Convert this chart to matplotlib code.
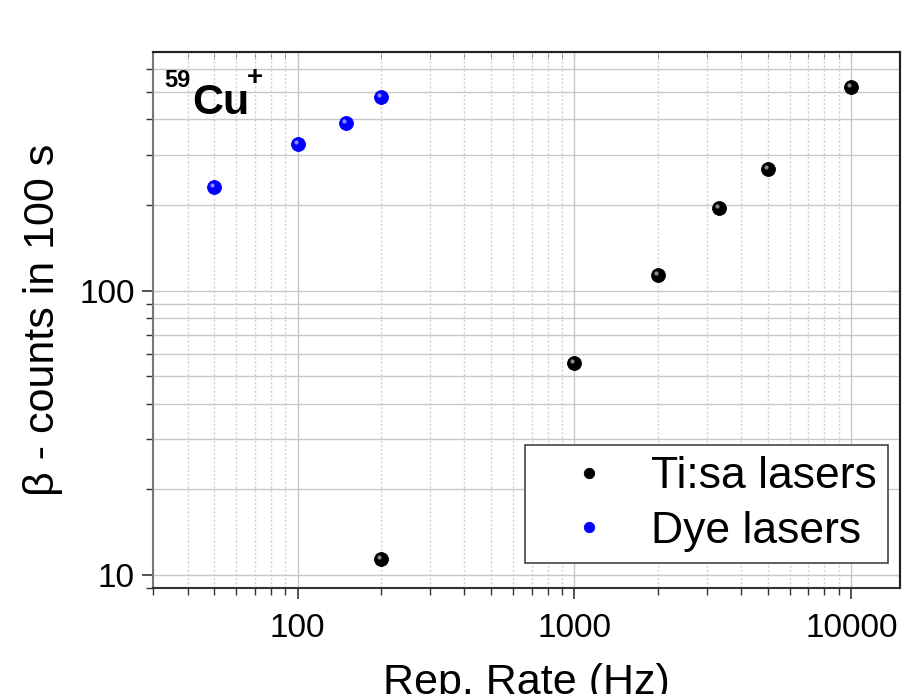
import numpy as np
import matplotlib
matplotlib.use("Agg")
import matplotlib.pyplot as plt
import matplotlib.transforms as mtransforms
from matplotlib.ticker import LogLocator, NullFormatter, FixedLocator

plt.rcParams['font.family'] = ['Liberation Sans', 'DejaVu Sans']

# data
tisa_rate = [200, 1000, 2000, 3333, 5000, 10000]
tisa_counts = [11.4, 55.7, 113, 195, 267, 519]
dye_rate = [50, 100, 150, 200]
dye_counts = [232, 327, 387, 478]

x_ticks = [100, 1000, 10000]
x_ticklabels = ['100', '1000', '10000']
y_ticks = [10, 100]
y_ticklabels = ['10', '100']

fig = plt.figure(figsize=(9.03, 6.94), dpi=100)
ax = fig.add_axes([0.1694, 0.1527, 0.8273, 0.7724])
ax.set_xscale('log')
ax.set_yscale('log')
ax.set_xlim(30, 15000)
ax.set_ylim(9, 690)

# horizontal grid solid, vertical minor grid dotted
ax.xaxis.grid(True, which='major', color='#c8c8c8', lw=1.0, ls='-')
ax.xaxis.grid(True, which='minor', color='#d0d0d0', lw=1.0, ls=(0, (1.5, 1.5)))
ax.yaxis.grid(True, which='both', color='#c8c8c8', lw=1.0, ls='-')
ax.set_axisbelow(True)


def spheres(x, y, color, label):
    ax.plot(x, y, 'o', ms=10, color=color, mec='black' if color == 'black' else color,
            mew=0.6, label=label, zorder=3)
    hl = ax.transData + mtransforms.ScaledTranslation(-2/100, 2/100, fig.dpi_scale_trans)
    ax.plot(x, y, 'o', ms=3, color='white', alpha=0.55, mew=0, transform=hl, zorder=4)


spheres(tisa_rate, tisa_counts, 'black', 'Ti:sa lasers')
spheres(dye_rate, dye_counts, '#0000ff', 'Dye lasers')

ax.xaxis.set_major_locator(FixedLocator(x_ticks))
ax.set_xticklabels(x_ticklabels)
ax.yaxis.set_major_locator(FixedLocator(y_ticks))
ax.set_yticklabels(y_ticklabels)
ax.xaxis.set_minor_locator(LogLocator(base=10, subs=np.arange(2, 10)))
ax.yaxis.set_minor_locator(LogLocator(base=10, subs=np.arange(2, 10)))
ax.xaxis.set_minor_formatter(NullFormatter())
ax.yaxis.set_minor_formatter(NullFormatter())
ax.tick_params(which='major', direction='out', length=8, width=1.2, labelsize=24,
               color='#333333', pad=5)
ax.tick_params(which='minor', direction='out', length=5, width=1.0, color='#333333')
ax.tick_params(axis='x', pad=10)

for side in ['top', 'right']:
    ax.spines[side].set_color('#222222')
ax.spines['left'].set_color('#777777')
ax.spines['bottom'].set_color('#333333')
for s in ax.spines.values():
    s.set_linewidth(1.5)

secx = ax.secondary_xaxis('top')
secx.xaxis.set_major_locator(FixedLocator(x_ticks))
secx.xaxis.set_minor_locator(LogLocator(base=10, subs=np.arange(2, 10)))
secx.xaxis.set_major_formatter(NullFormatter())
secx.xaxis.set_minor_formatter(NullFormatter())
secx.tick_params(which='both', direction='in', length=5, color='#555555')
secx.spines['top'].set_linewidth(1.5)

secy = ax.secondary_yaxis('right')
secy.yaxis.set_major_locator(FixedLocator(y_ticks))
secy.yaxis.set_minor_locator(LogLocator(base=10, subs=np.arange(2, 10)))
secy.yaxis.set_major_formatter(NullFormatter())
secy.yaxis.set_minor_formatter(NullFormatter())
secy.tick_params(which='both', direction='in', length=6, color='#222222')
secy.spines['right'].set_linewidth(1.5)

ax.set_xlabel('Rep. Rate (Hz)', fontsize=31, labelpad=14)
ax.set_ylabel('\u03b2 - counts in 100 s', fontsize=31, labelpad=12)

# 59Cu+ label
ax.text(0.052, 0.885, 'Cu', transform=ax.transAxes, fontsize=31, fontweight='bold',
        ha='left', va='baseline')
ax.text(0.050, 0.935, '59', transform=ax.transAxes, fontsize=17, fontweight='bold',
        ha='right', va='baseline')
ax.text(0.126, 0.938, '+', transform=ax.transAxes, fontsize=20, fontweight='bold',
        ha='left', va='baseline')

leg = ax.legend(loc='lower right', bbox_to_anchor=(0.984, 0.047), fontsize=32,
                frameon=True, fancybox=False, edgecolor='#444444', framealpha=1,
                handletextpad=0.2, borderpad=0.25, labelspacing=0.3,
                handlelength=2.4, borderaxespad=0, markerscale=0.75)
leg.get_frame().set_linewidth(1.2)

fig.savefig('out.png', dpi=100)
